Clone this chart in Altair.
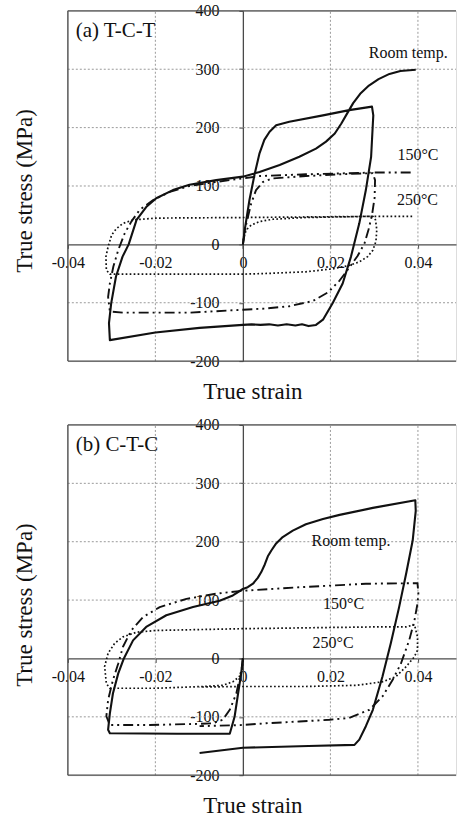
import altair as alt
import pandas as pd

# ---------------- data ----------------
# Panel (a) T-C-T
a_room_x = [0, 0.0004, 0.0015, 0.0027, 0.0038, 0.0049, 0.0061, 0.0076, 0.0106, 0.0183, 0.0243, 0.0295,
            0.0298, 0.0297, 0.0293, 0.0281, 0.0266, 0.0247, 0.0228, 0.0205, 0.0183, 0.0167,
            0.0150, 0.0135, 0.0120, 0.0100, 0.0080, 0.0060, 0.0040, 0.0020, 0, -0.0099, -0.0200, -0.0304,
            -0.0306, -0.0301, -0.0290, -0.0275, -0.0261, -0.0243, -0.0221, -0.0198, -0.0160, -0.0122, -0.0061, 0,
            0.0038, 0.0084, 0.0129, 0.0167, 0.0190, 0.0210, 0.0225, 0.0238, 0.0252, 0.0268, 0.0288, 0.0310,
            0.0335, 0.0360, 0.0395]
a_room_y = [0, 24, 76, 121, 156, 179, 193, 204, 210, 221, 230, 236,
            221, 207, 150, 93, 36, -21, -67, -101, -129, -138,
            -140, -137, -139, -137, -139, -137, -138, -137, -138, -143, -151, -164,
            -135, -101, -55, -21, 0, 42, 64, 79, 93, 102, 110, 116,
            124, 136, 150, 164, 176, 190, 207, 224, 242, 258, 272, 283,
            292, 297, 299]

a_150_x = [0, 0.0008, 0.0019, 0.0030, 0.0046, 0.0068, 0.0144, 0.0221, 0.0297,
           0.0302, 0.0301, 0.0295, 0.0287, 0.0278, 0.0262, 0.0243, 0.0221, 0.0195, 0.0160, 0.0106, 0.0050, 0,
           -0.0122, -0.0198, -0.0274, -0.0304, -0.0308, -0.0304, -0.0296, -0.0285, -0.0270, -0.0255, -0.0236,
           -0.0205, -0.0167, -0.0122, -0.0061, 0, 0.0038, 0.0144, 0.0297, 0.0392]
a_150_y = [0, 36, 70, 93, 107, 113, 117, 120, 122,
           110, 80, 50, 25, 2, -20, -40, -62, -82, -97, -106, -110, -112,
           -117, -117, -117, -115, -90, -67, -38, -10, 19, 39, 59,
           76, 90, 100, 107, 113, 117, 120, 123, 123]

a_250_x = [0, 0.0002, 0.0008, 0.0019, 0.0038, 0.0068, 0.0144, 0.0297,
           0.0303, 0.0306, 0.0304, 0.0297, 0.0285, 0.0266, 0.0243, 0.0205, 0.0144, 0.0050, 0,
           -0.0304, -0.0312, -0.0313, -0.0308, -0.0300, -0.0289, -0.0274, -0.0250, -0.0198, 0, 0.0300, 0.0392]
a_250_y = [0, 13, 25, 33, 39, 43, 46, 48,
           42, 25, 5, -10, -21, -30, -36, -42, -47, -50, -51,
           -51, -44, -21, -4, 16, 27, 36, 42, 45, 46, 48, 48]

# Panel (b) C-T-C
b_room_x = [0, -0.0004, -0.0011, -0.0019, -0.0030, -0.0150, -0.0304,
            -0.0308, -0.0304, -0.0297, -0.0285, -0.0272, -0.0251, -0.0221, -0.0175, -0.0114, -0.0053, -0.0023, 0,
            0.0011, 0.0023, 0.0034, 0.0042, 0.0050, 0.0057, 0.0065, 0.0076, 0.0091, 0.0114, 0.0144, 0.0183,
            0.0221, 0.0297, 0.0394,
            0.0395, 0.0388, 0.0373, 0.0357, 0.0338, 0.0319, 0.0297, 0.0281, 0.0266, 0.0255,
            0.0150, 0, -0.0099]
b_room_y = [0, -26, -60, -100, -129, -129, -128,
            -122, -94, -60, -26, 0, 31, 54, 74, 88, 99, 108, 119,
            122, 128, 138, 148, 161, 175, 185, 197, 208, 219, 230, 239,
            246, 258, 271,
            253, 202, 145, 88, 26, -31, -88, -116, -139, -148,
            -150, -153, -162]

b_150_x = [0, -0.0002, -0.0015, -0.0030, -0.0046, -0.0068, -0.0099, -0.0213, -0.0304,
           -0.0312, -0.0308, -0.0297, -0.0285, -0.0274, -0.0255, -0.0228, -0.0190, -0.0129, -0.0061, 0,
           0.0129, 0.0281, 0.0399, 0.0401, 0.0399, 0.0392, 0.0380, 0.0361, 0.0342, 0.0319, 0.0289,
           0.0243, 0.0198, 0.0129, 0.0053, 0, -0.0099]
b_150_y = [0, -14, -60, -88, -105, -111, -112, -114, -114,
           -99, -71, -37, -9, 20, 48, 71, 88, 102, 111, 116,
           122, 128, 129, 111, 94, 65, 31, -9, -37, -65, -88,
           -102, -105, -108, -111, -114, -116]

b_250_x = [0, -0.0002, -0.0008, -0.0023, -0.0046, -0.0090, -0.0198, -0.0304,
           -0.0312, -0.0316, -0.0308, -0.0293, -0.0274, -0.0243, -0.0198, 0, 0.0297, 0.0373,
           0.0392, 0.0399, 0.0399, 0.0392, 0.0373, 0.0350, 0.0319, 0.0259, 0.0144, 0, -0.0099]
b_250_y = [-3, -20, -31, -40, -46, -48, -51, -51,
           -43, -14, 9, 26, 37, 45, 48, 51, 54, 54,
           58, 37, 14, 3, -14, -31, -40, -46, -48, -48, -49]

series_names = ["Room temp.", "150°C", "250°C"]
a_label_x = [0.0378, 0.0400, 0.0399]
a_label_y = [327, 153, 76]
b_label_x = [0.0247, 0.0230, 0.0206]
b_label_y = [202, 94, 26]

panel_titles = ["(a) T-C-T", "(b) C-T-C"]
title_x = -0.0382
title_y = 365

x_ticks = [-0.04, -0.02, 0, 0.02, 0.04]
y_ticks = [-200, -100, 0, 100, 200, 300, 400]
x_grid = [-0.02, 0.02, 0.04]
y_grid = [-100, 100, 200, 300]
x_domain = [-0.04, 0.0487]
y_domain = [-200, 400]

# ---------------- chart ----------------
FONT = "Liberation Serif"
INK = "#111111"
AXC = "#4a4a4a"
W, H = 389, 351


def make_panel(curves, lab_x, lab_y, title):
    xs = alt.Scale(domain=x_domain, nice=False, zero=False)
    ys = alt.Scale(domain=y_domain, nice=False, zero=False)
    x_axis = alt.Axis(orient="bottom", offset=-117, values=x_ticks, grid=False,
                      labelExpr="datum.value == 0 ? '0' : (datum.value < 0 ? '-' : '') + format(abs(datum.value), '.2f')",
                      labelFont=FONT, labelFontSize=16, labelColor=INK, labelPadding=6,
                      labelFlush=False, labelOverlap=False,
                      tickSize=4, tickColor=AXC, domainColor=AXC, domainWidth=1.3,
                      title="True strain", titleFont=FONT, titleFontSize=23, titleFontWeight="normal",
                      titleColor=INK, titleX=185, titleY=154, titleAlign="center",
                      titleBaseline="alphabetic", titleAngle=0)
    y_axis = alt.Axis(orient="left", offset=-175.4, values=y_ticks, grid=False,
                      labelExpr="(datum.value < 0 ? '-' : '') + format(abs(datum.value), 'd')",
                      labelFont=FONT, labelFontSize=16, labelColor=INK, labelPadding=20,
                      labelFlush=False, labelOverlap=False,
                      tickSize=4, tickColor=AXC, domainColor=AXC, domainWidth=1.3,
                      title="True stress (MPa)", titleFont=FONT, titleFontSize=23, titleFontWeight="normal",
                      titleColor=INK, titleX=-218.4, titleY=180, titleAlign="center",
                      titleBaseline="middle", titleAngle=270)

    def X(f):
        return alt.X(f, type="quantitative", scale=xs, axis=x_axis)

    def Y(f):
        return alt.Y(f, type="quantitative", scale=ys, axis=y_axis)

    frame = pd.DataFrame({
        "x": [x_domain[0], x_domain[0], x_domain[0]],
        "x2": [x_domain[0], x_domain[1], x_domain[1]],
        "y": [y_domain[0], y_domain[1], y_domain[0]],
        "y2": [y_domain[1], y_domain[1], y_domain[0]],
    })
    grid_rows = [{"x": g, "x2": g, "y": y_domain[0], "y2": y_domain[1]} for g in x_grid] + \
                [{"x": x_domain[0], "x2": x_domain[1], "y": g, "y2": g} for g in y_grid]
    grid = pd.DataFrame(grid_rows)

    grid_layer = alt.Chart(grid).mark_rule(color="#9a9a9a", strokeWidth=1, strokeDash=[2, 2]).encode(
        x=X("x"), x2="x2", y=Y("y"), y2="y2")
    frame_layer = alt.Chart(frame).mark_rule(color=AXC, strokeWidth=1.3).encode(
        x=X("x"), x2="x2", y=Y("y"), y2="y2")

    styles = [dict(strokeWidth=2.1),
              dict(strokeWidth=1.9, strokeDash=[10, 4, 2, 4, 2, 4]),
              dict(strokeWidth=1.7, strokeDash=[1.7, 2.3])]
    line_layers = []
    for (cx, cy), st in zip(curves, styles):
        df = pd.DataFrame({"x": cx, "y": cy, "i": list(range(len(cx)))})
        line_layers.append(
            alt.Chart(df).mark_line(color=INK, strokeJoin="round", interpolate="linear", **st).encode(
                x=X("x"), y=Y("y"), order="i:Q"))

    labels = pd.DataFrame({"x": lab_x, "y": lab_y, "t": series_names})
    label_layer = alt.Chart(labels).mark_text(font=FONT, fontSize=16, color=INK, align="center",
                                              baseline="middle").encode(x=X("x"), y=Y("y"), text="t:N")
    tdf = pd.DataFrame({"x": [title_x], "y": [title_y], "t": [title]})
    title_layer = alt.Chart(tdf).mark_text(font=FONT, fontSize=21, color=INK, align="left",
                                           baseline="middle").encode(x=X("x"), y=Y("y"), text="t:N")

    return alt.layer(grid_layer, frame_layer, *line_layers, label_layer, title_layer).properties(
        width=W, height=H)


panel_a = make_panel([(a_room_x, a_room_y), (a_150_x, a_150_y), (a_250_x, a_250_y)],
                     a_label_x, a_label_y, panel_titles[0])
panel_b = make_panel([(b_room_x, b_room_y), (b_150_x, b_150_y), (b_250_x, b_250_y)],
                     b_label_x, b_label_y, panel_titles[1])

chart = alt.vconcat(panel_a, panel_b, spacing=64, bounds="flush").properties(
    padding={"left": 13, "top": 1, "right": 0, "bottom": 2}
).configure_view(stroke=None).configure(background="white")

chart.save("out.html", embed_options={"renderer": "svg", "actions": False})
